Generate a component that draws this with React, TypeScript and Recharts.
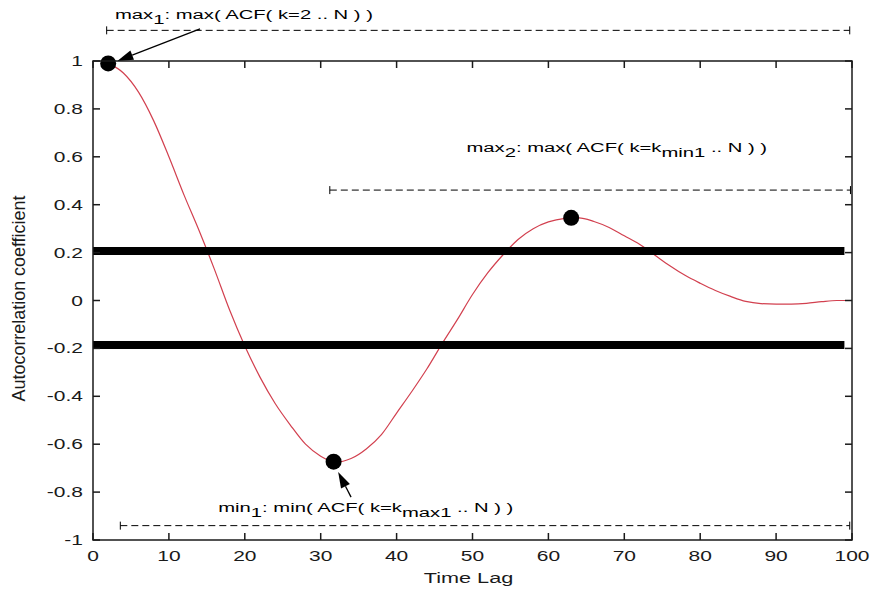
import React from "react";
import {
  LineChart,
  Line,
  XAxis,
  YAxis,
  ReferenceLine,
  ReferenceDot,
  Label,
} from "recharts";

// ACF curve
const lags = [
  2, 4, 6, 8, 10, 12, 14, 16, 18, 20, 22, 24, 26, 28, 30, 32, 34, 36, 38, 40,
  42, 44, 46, 48, 50, 52, 54, 56, 58, 60, 62, 64, 66, 68, 70, 72, 74, 76, 78,
  80, 82, 84, 86, 88, 90, 92, 94, 96, 98, 100,
];
const acf = [
  0.99, 0.95, 0.87, 0.75, 0.6, 0.44, 0.29, 0.13, -0.04, -0.19, -0.32, -0.43,
  -0.52, -0.6, -0.65, -0.675, -0.66, -0.62, -0.56, -0.47, -0.38, -0.285,
  -0.18, -0.08, 0.025, 0.115, 0.19, 0.255, 0.3, 0.328, 0.342, 0.345, 0.33,
  0.305, 0.27, 0.235, 0.19, 0.145, 0.105, 0.072, 0.042, 0.017, -0.004,
  -0.013, -0.015, -0.015, -0.012, -0.005, 0, 0,
];

// confidence bands
const bandLevels = [0.207, -0.186];
const bandEnd = 99;

// marked extrema
const peakLag = [2, 31.7, 63];
const peakAcf = [0.99, -0.673, 0.345];

// search ranges (dashed)
const rangeFrom = [1.8, 31.2, 3.6];
const rangeTo = [99.7, 99.8, 99.7];
const rangeLevel = [1.128, 0.461, -0.94];

// annotation text: [text, isSubscript]
const notes: [string, boolean][][] = [
  [["max", false], ["1", true], [": max( ACF( k=2 .. N ) )", false]],
  [["max", false], ["2", true], [": max( ACF( k=k", false], ["min1", true], [" .. N ) )", false]],
  [["min", false], ["1", true], [": min( ACF( k=k", false], ["max1", true], [" .. N ) )", false]],
];
const noteLag = [2.9, 49.2, 16.5];
const noteAcf = [1.175, 0.619, -0.882];

// arrows: tail -> head
const arrows = [
  { from: [14.1, 1.134], to: [3.2, 1.0] },
  { from: [34.0, -0.821], to: [32.3, -0.716] },
];

const xTicks = [0, 10, 20, 30, 40, 50, 60, 70, 80, 90, 100];
const yTicks = [-1, -0.8, -0.6, -0.4, -0.2, 0, 0.2, 0.4, 0.6, 0.8, 1];
const xDomain = [0, 100];
const yDomain = [-1, 1];

const data = lags.map((k, i) => ({ k, acf: acf[i] }));

// layout
const W = 871;
const H = 592;
const margin = { top: 61, right: 19, bottom: 0, left: 0 };
const yAxisWidth = 93;
const xAxisHeight = 52;
const plotL = margin.left + yAxisWidth;
const plotT = margin.top;
const plotW = W - plotL - margin.right;
const plotH = H - plotT - margin.bottom - xAxisHeight;
const sx = (v: number) => plotL + ((v - xDomain[0]) / (xDomain[1] - xDomain[0])) * plotW;
const sy = (v: number) => plotT + ((yDomain[1] - v) / (yDomain[1] - yDomain[0])) * plotH;

const FONT = '"Liberation Sans", Arial, Helvetica, sans-serif';
const INK = "#1a1a1a";
const fmt = (v: number) => String(Number(v.toFixed(1)));

const BottomTick = (p: any) => (
  <text
    transform={`translate(${p.x},${p.y + 21}) scale(1.4,1)`}
    textAnchor="middle"
    fontSize={15}
    fontFamily={FONT}
    fill={INK}
  >
    {fmt(p.payload.value)}
  </text>
);

const LeftTick = (p: any) => (
  <text
    transform={`translate(${p.x - 10},${p.y + 5}) scale(1.4,1)`}
    textAnchor="end"
    fontSize={15}
    fontFamily={FONT}
    fill={INK}
  >
    {fmt(p.payload.value)}
  </text>
);

// box with inward ticks on all four sides
function Frame() {
  const r = plotL + plotW;
  const b = plotT + plotH;
  return (
    <svg
      width={W}
      height={H}
      style={{ position: "absolute", left: 0, top: 0, pointerEvents: "none" }}
    >
      <rect x={plotL} y={plotT} width={plotW} height={plotH} fill="none" stroke={INK} strokeWidth={1.5} />
      {xTicks.map((t) => (
        <g key={"x" + t} stroke={INK} strokeWidth={1.5}>
          <line x1={sx(t)} y1={b} x2={sx(t)} y2={b - 7} />
          <line x1={sx(t)} y1={plotT} x2={sx(t)} y2={plotT + 7} />
        </g>
      ))}
      {yTicks.map((t) => (
        <g key={"y" + t} stroke={INK} strokeWidth={1.5}>
          <line x1={plotL} y1={sy(t)} x2={plotL + 7} y2={sy(t)} />
          <line x1={r} y1={sy(t)} x2={r - 7} y2={sy(t)} />
        </g>
      ))}
    </svg>
  );
}

const RangeShape = (p: any) => (
  <g>
    <line x1={p.x1} y1={p.y1} x2={p.x2} y2={p.y2} stroke="#000" strokeDasharray="7 4" />
    <line x1={p.x1} y1={p.y1 - 4} x2={p.x1} y2={p.y1 + 4} stroke="#000" />
    <line x1={p.x2} y1={p.y2 - 4} x2={p.x2} y2={p.y2 + 4} stroke="#000" />
  </g>
);

const ArrowShape = (p: any) => {
  const ang = Math.atan2(p.y2 - p.y1, p.x2 - p.x1);
  const len = 16;
  const half = 5;
  const bx = p.x2 - len * Math.cos(ang);
  const by = p.y2 - len * Math.sin(ang);
  const ox = -Math.sin(ang) * half;
  const oy = Math.cos(ang) * half;
  return (
    <g>
      <line x1={p.x1} y1={p.y1} x2={bx} y2={by} stroke="#000" strokeWidth={1.3} />
      <polygon
        points={`${p.x2},${p.y2} ${bx + ox},${by + oy} ${bx - ox},${by - oy}`}
        fill="#000"
      />
    </g>
  );
};

const noteShape = (parts: [string, boolean][]) => (p: any) => {
  let low = false;
  return (
    <text
      transform={`translate(${p.cx},${p.cy}) scale(1.5,1)`}
      fontSize={13.5}
      fontFamily={FONT}
      fill="#000"
      style={{ whiteSpace: "pre" }}
    >
      {parts.map(([t, sub], i) => {
        const dy = sub && !low ? 5 : !sub && low ? -5 : 0;
        low = sub;
        return (
          <tspan key={i} dy={dy}>
            {t}
          </tspan>
        );
      })}
    </text>
  );
};

export default function App() {
  return (
    <div style={{ position: "absolute", left: 0, top: 0, width: W, height: H }}>
      <LineChart width={W} height={H} data={data} margin={margin}>
        <XAxis
          dataKey="k"
          type="number"
          domain={xDomain}
          ticks={xTicks}
          height={xAxisHeight}
          tickSize={0}
          tickMargin={0}
          tick={<BottomTick />}
          axisLine={false}
          tickLine={false}
          interval={0}
        >
          <Label
            content={(lp: any) => (
              <text
                transform={`translate(${lp.viewBox.x + lp.viewBox.width / 2 - 4},${lp.viewBox.y + 43}) scale(1.4,1)`}
                textAnchor="middle"
                fontSize={15.5}
                fontFamily={FONT}
                fill={INK}
              >
                Time Lag
              </text>
            )}
          />
        </XAxis>
        <YAxis
          type="number"
          domain={yDomain}
          ticks={yTicks}
          width={yAxisWidth}
          tickSize={0}
          tickMargin={0}
          tick={<LeftTick />}
          axisLine={false}
          tickLine={false}
          interval={0}
        >
          <Label
            content={(lp: any) => (
              <text
                transform={`translate(${lp.viewBox.x + 25},${lp.viewBox.y + lp.viewBox.height / 2 - 2}) rotate(-90) scale(1.12,1.2)`}
                textAnchor="middle"
                fontSize={16}
                fontFamily={FONT}
                fill={INK}
              >
                Autocorrelation coefficient
              </text>
            )}
          />
        </YAxis>

        <Line
          dataKey="acf"
          type="monotone"
          stroke="#d2404f"
          strokeWidth={1.2}
          dot={false}
          isAnimationActive={false}
        />

        {bandLevels.map((lvl) => (
          <ReferenceLine
            key={"band" + lvl}
            segment={[
              { x: 0, y: lvl },
              { x: bandEnd, y: lvl },
            ]}
            stroke="#000"
            strokeWidth={8}
          />
        ))}

        {rangeLevel.map((lvl, i) => (
          <ReferenceLine
            key={"r" + i}
            segment={[
              { x: rangeFrom[i], y: lvl },
              { x: rangeTo[i], y: lvl },
            ]}
            ifOverflow="visible"
            shape={RangeShape}
          />
        ))}

        {arrows.map((a, i) => (
          <ReferenceLine
            key={"a" + i}
            segment={[
              { x: a.from[0], y: a.from[1] },
              { x: a.to[0], y: a.to[1] },
            ]}
            ifOverflow="visible"
            shape={ArrowShape}
          />
        ))}

        {peakLag.map((k, i) => (
          <ReferenceDot
            key={"p" + i}
            x={k}
            y={peakAcf[i]}
            r={8}
            fill="#000"
            stroke="none"
            ifOverflow="visible"
          />
        ))}

        {notes.map((parts, i) => (
          <ReferenceDot
            key={"n" + i}
            x={noteLag[i]}
            y={noteAcf[i]}
            r={0}
            ifOverflow="visible"
            shape={noteShape(parts)}
          />
        ))}
      </LineChart>
      <Frame />
    </div>
  );
}
